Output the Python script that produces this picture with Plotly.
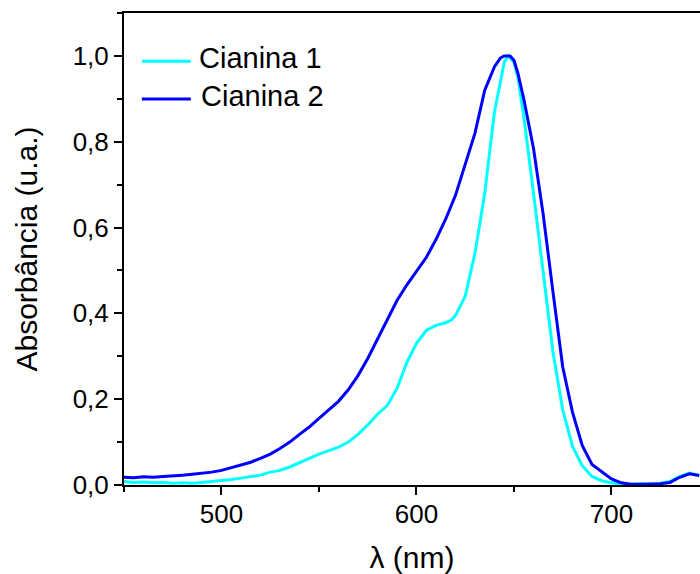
import plotly.graph_objects as go

# Wavelength (nm) and normalized absorbance
wl_c1 = [450, 455, 460, 465, 470, 475, 480, 485, 490, 495, 500, 505, 510, 515, 520,
         525, 530, 535, 540, 545, 550, 555, 560, 565, 570, 575, 580, 585, 590, 595,
         600, 605, 610, 615, 618, 620, 625, 630, 635, 640, 645, 647, 650, 652, 655,
         660, 665, 670, 675, 680, 685, 690, 695, 700, 705, 710, 715, 720, 725, 730,
         735, 740, 745]
abs_c1 = [0.008, 0.006, 0.007, 0.005, 0.006, 0.004, 0.005, 0.004, 0.006, 0.008, 0.010,
          0.013, 0.016, 0.019, 0.023, 0.030, 0.034, 0.042, 0.052, 0.062, 0.072, 0.080,
          0.088, 0.100, 0.118, 0.140, 0.165, 0.185, 0.225, 0.285, 0.330, 0.360, 0.372,
          0.378, 0.385, 0.395, 0.440, 0.540, 0.680, 0.870, 0.985, 1.000, 0.985, 0.950,
          0.860, 0.680, 0.490, 0.310, 0.175, 0.090, 0.045, 0.020, 0.010, 0.005, 0.003,
          0.002, 0.003, 0.002, 0.004, 0.008, 0.020, 0.028, 0.022]

wl_c2 = [450, 455, 460, 465, 470, 475, 480, 485, 490, 495, 500, 505, 510, 515, 520,
         525, 530, 535, 540, 545, 550, 555, 560, 565, 570, 575, 580, 585, 590, 595,
         600, 605, 610, 615, 620, 625, 630, 635, 640, 643, 645, 648, 650, 652, 655,
         660, 665, 670, 675, 680, 685, 690, 695, 700, 705, 710, 715, 720, 725, 730,
         735, 740, 745]
abs_c2 = [0.018, 0.017, 0.019, 0.018, 0.020, 0.021, 0.023, 0.025, 0.027, 0.030, 0.034,
          0.040, 0.046, 0.053, 0.062, 0.072, 0.085, 0.100, 0.118, 0.135, 0.155, 0.175,
          0.195, 0.222, 0.255, 0.295, 0.340, 0.385, 0.430, 0.466, 0.497, 0.530, 0.572,
          0.620, 0.675, 0.745, 0.820, 0.920, 0.975, 0.995, 1.000, 1.000, 0.990, 0.960,
          0.900, 0.785, 0.630, 0.450, 0.275, 0.170, 0.092, 0.048, 0.030, 0.014, 0.005,
          0.002, 0.002, 0.003, 0.003, 0.006, 0.018, 0.026, 0.022]

names = ["Cianina 1", "Cianina 2"]
colors = ["#00FFFF", "#0000FF"]

FONT = "Liberation Sans, Arial, sans-serif"

fig = go.Figure()
fig.add_trace(go.Scatter(x=wl_c1, y=abs_c1, mode="lines", name=names[0],
                         line=dict(color=colors[0], width=3), showlegend=False))
fig.add_trace(go.Scatter(x=wl_c2, y=abs_c2, mode="lines", name=names[1],
                         line=dict(color=colors[1], width=3), showlegend=False))

# manual legend (line samples + labels)
leg_y = [0.898, 0.818]
for i in range(2):
    fig.add_shape(type="line", xref="paper", yref="paper",
                  x0=0.031, x1=0.116, y0=leg_y[i], y1=leg_y[i],
                  line=dict(color=colors[i], width=3))
    fig.add_annotation(xref="paper", yref="paper", x=0.126 + 0.004 * i, y=leg_y[i] + 0.006,
                       text=names[i], showarrow=False, xanchor="left", yanchor="middle",
                       font=dict(family=FONT, size=29, color="black"))

fig.update_layout(
    width=700, height=574, autosize=False,
    margin=dict(l=124, r=0, t=13, b=89),
    paper_bgcolor="white", plot_bgcolor="white",
    separators=",.",
    font=dict(family=FONT, color="black"),
)
fig.update_xaxes(
    range=[450, 745.4], showline=True, linewidth=2, linecolor="black", mirror=True,
    ticks="outside", ticklen=8, tickwidth=2, tickcolor="black",
    tick0=500, dtick=100, showgrid=False, zeroline=False, ticklabelstandoff=-3,
    minor=dict(ticks="outside", ticklen=5, tickwidth=2, tickcolor="black", tick0=450, dtick=50, showgrid=False),
    tickfont=dict(family=FONT, size=26, color="black"),
    title=dict(text="λ (nm)", font=dict(family=FONT, size=30, color="black"), standoff=22),
)
fig.update_yaxes(
    range=[0, 1.1], showline=True, linewidth=2, linecolor="black", mirror=False,
    ticks="outside", ticklen=8, tickwidth=2, tickcolor="black",
    tick0=0, dtick=0.2, tickformat=".1f", showgrid=False, zeroline=False,
    minor=dict(ticks="outside", ticklen=5, tickwidth=2, tickcolor="black", tick0=0, dtick=0.1, showgrid=False),
    tickfont=dict(family=FONT, size=26, color="black"),
    title=dict(text="Absorbância (u.a.)", font=dict(family=FONT, size=30, color="black"), standoff=26),
)

fig.write_html("out.html")
